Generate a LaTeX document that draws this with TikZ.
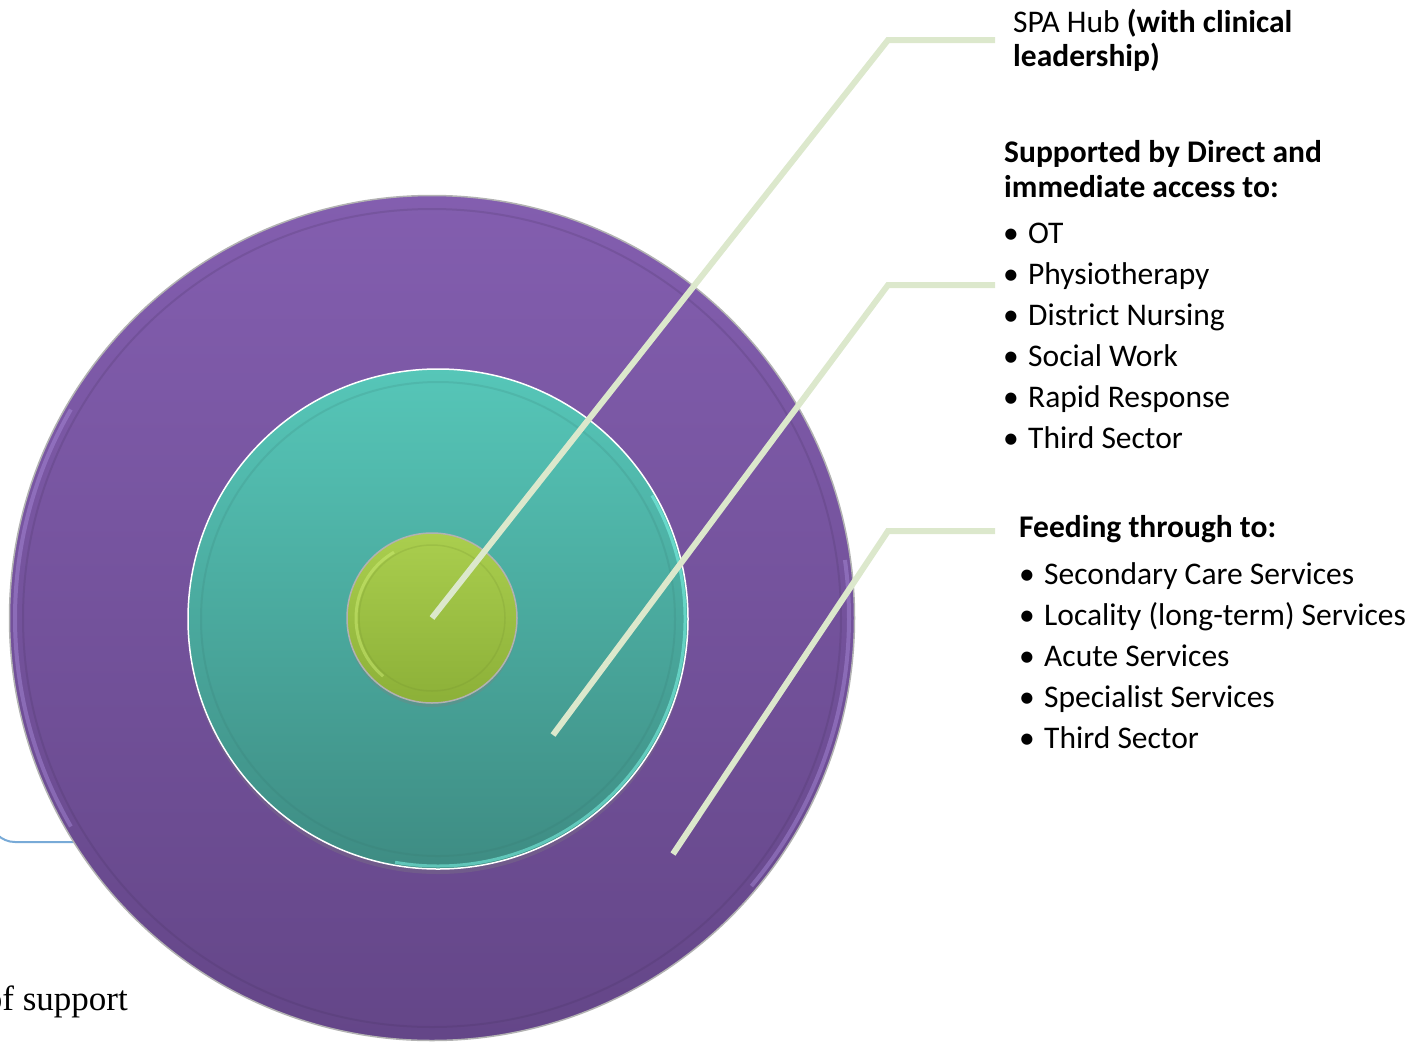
\documentclass[tikz,border=0pt]{standalone}
\usepackage{fontspec}
\setmainfont{Carlito}
\newfontfamily\bodyserif{Liberation Serif}
\usetikzlibrary{shadows}

\definecolor{purptop}{RGB}{131,94,175}
\definecolor{purpbot}{RGB}{100,70,136}
\definecolor{purprim}{RGB}{170,140,220}
\definecolor{tealtop}{RGB}{86,198,184}
\definecolor{tealbot}{RGB}{62,140,131}
\definecolor{tealrim}{RGB}{130,255,238}
\definecolor{greentop}{RGB}{170,206,78}
\definecolor{greenbot}{RGB}{140,176,56}
\definecolor{greenrim}{RGB}{210,240,120}
\definecolor{leadgreen}{RGB}{220,232,204}
\definecolor{linkblue}{RGB}{120,170,215}

\tikzset{
  disc/.style={circle, inner sep=0pt, line width=1.5pt},
  rim/.style={line width=4pt, opacity=0.45},
  leader/.style={draw=leadgreen, line width=6pt},
  headtext/.style={anchor=base west, inner sep=0pt, align=left, font=\fontsize{31.5}{34}\selectfont},
  listtext/.style={anchor=base west, inner sep=0pt, align=left, font=\fontsize{31.5}{41}\selectfont}
}
\newcommand{\itm}[1]{\makebox[25pt][l]{\textbullet}#1}

\begin{document}
\begin{tikzpicture}[x=1pt,y=-1pt]
			%%%%% START %%%%%
			\useasboundingbox (0,0) rectangle (1416,1042);
			
			% link coming in from the left
			\coordinate (linkstart) at (-10,800);
			\draw[linkblue, line width=2pt, rounded corners=25pt] (linkstart) |- (90,842);
			
			% outer ring
			\node[disc, draw=black!30, minimum size=845pt, top color=purptop, bottom color=purpbot] (outer) at (432,618) {};
			\draw[purpbot!70!black, line width=2pt, opacity=0.2] (outer.center) circle (409);
			\draw[purprim, rim] ([shift={(150:417)}]outer.center) arc[start angle=150, end angle=210, radius=417];
			\draw[purprim, rim] ([shift={(-8:417)}]outer.center) arc[start angle=-8, end angle=40, radius=417];
			
			% middle ring
			\node[disc, draw=white, minimum size=500pt, top color=tealtop, bottom color=tealbot,
			      drop shadow={opacity=0.3, shadow xshift=0pt, shadow yshift=-5pt}] (middle) at (438,619) {};
			\draw[tealrim, line width=3pt, opacity=0.5] ([shift={(-30:247)}]middle.center) arc[start angle=-30, end angle=100, radius=247];
			\draw[tealbot!80!black, line width=2pt, opacity=0.15] (middle.center) circle (237);
			
			% hub
			\node[disc, draw=black!30, minimum size=170pt, top color=greentop, bottom color=greenbot,
			      drop shadow={opacity=0.3, shadow xshift=0pt, shadow yshift=-4pt}] (hub) at (432,618) {};
			\draw[greenrim, line width=3pt, opacity=0.45] ([shift={(130:76)}]hub.center) arc[start angle=130, end angle=240, radius=76];
			\draw[greenbot!80!black, line width=1.5pt, opacity=0.2] (hub.center) circle (73);
			
			% leader lines
			\coordinate (midtip) at (553,735);
			\coordinate (outtip) at (673,854);
			\coordinate (spaend) at (995,40);
			\coordinate (directend) at (995,285);
			\coordinate (feedend) at (995,531);
			\draw[leader] (hub.center) -- (888,40) -- (spaend);
			\draw[leader] (midtip) -- (888,285) -- (directend);
			\draw[leader] (outtip) -- (888,531) -- (feedend);
			
			% texts (base = last line)
			\node[headtext] (spa) at (1013,66) {SPA Hub \textbf{(with clinical}\\\textbf{leadership)}};
			\node[headtext, font=\bfseries\fontsize{31.5}{35}\selectfont] (direct) at (1004,197) {Supported by Direct and\\immediate access to:};
			\node[listtext] (directlist) at (1003,448) {\itm{OT}\\\itm{Physiotherapy}\\\itm{District Nursing}\\\itm{Social Work}\\\itm{Rapid Response}\\\itm{Third Sector}};
			\node[headtext, font=\bfseries\fontsize{31.5}{35}\selectfont] (feed) at (1019,537) {Feeding through to:};
			\node[listtext] (feedlist) at (1019,748) {\itm{Secondary Care Services}\\\itm{Locality (long-term) Services}\\\itm{Acute Services}\\\itm{Specialist Services}\\\itm{Third Sector}};
			
			\node[anchor=base east, inner sep=0pt, font=\bodyserif\fontsize{35}{40}\selectfont] (support) at (128,1010) {of support};
			
			%%%%% END %%%%%
\end{tikzpicture}
\end{document}
